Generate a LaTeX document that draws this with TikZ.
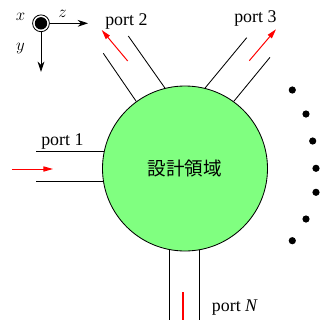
\documentclass[tikz,border=0pt]{standalone}
\usepackage{fontspec}
\setmainfont{Liberation Serif}
\newfontfamily\cjkfont{Noto Sans CJK JP}
\usetikzlibrary{arrows.meta}
\definecolor{domgreen}{HTML}{80FF80}
\begin{document}
\begin{tikzpicture}[x=0.25mm,y=-0.25mm,
  wall/.style={draw=black,line width=0.6pt},
  flow/.style={draw=red,line width=0.7pt,-{Triangle[length=2.4mm,width=1.3mm]}},
  flowline/.style={draw=red,line width=0.9pt},
  lbl/.style={inner sep=0pt,anchor=base west,font=\fontsize{12.7}{15}\selectfont},
  axlbl/.style={inner sep=0pt,font=\fontsize{12.7}{15}\selectfont},
  dotn/.style={circle,fill=black,inner sep=0pt,minimum size=1.8mm},
  axarrow/.style={draw=black,line width=0.6pt,-{Stealth[length=2.6mm,width=1.7mm]}}]
\useasboundingbox (0,0) rectangle (320,320);
% design domain
\node (dom) [circle, draw, line width=0.6pt, fill=domgreen, minimum size=41.25mm, inner sep=0pt] at (185,168.5) {\cjkfont\fontsize{13.2}{15}\selectfont 設計領域};
% port 1
\coordinate (p1end) at (36,0);
\draw[wall] (dom.168.5) -- (dom.168.5 -| p1end);
\draw[wall] (dom.189.6) -- (dom.189.6 -| p1end);
\coordinate (a1s) at (12,169);
\coordinate (a1e) at (53,169);
\draw[flow] (a1s) -- (a1e);
\node[lbl] (l1) at (41,145) {port 1};
% port 2
\coordinate (p2a) at (103.3,53.3);
\coordinate (p2b) at (128.3,36);
\draw[wall] (dom.126) -- (p2a);
\draw[wall] (dom.104) -- (p2b);
\coordinate (a2s) at (127.7,61);
\coordinate (a2e) at (101.7,30);
\draw[flow] (a2s) -- (a2e);
\node[lbl] (l2) at (105,25) {port 2};
% port 3
\coordinate (p3a) at (246.7,37.7);
\coordinate (p3b) at (270,57.3);
\draw[wall] (dom.76.5) -- (p3a);
\draw[wall] (dom.54) -- (p3b);
\coordinate (a3s) at (249.3,60.7);
\coordinate (a3e) at (276,29.3);
\draw[flow] (a3s) -- (a3e);
\node[lbl] (l3) at (234,22) {port 3};
% port N
\coordinate (bot) at (0,320);
\draw[wall] (dom.259) -- (dom.259 |- bot);
\draw[wall] (dom.280.5) -- (dom.280.5 |- bot);
\coordinate (aNs) at (183,292);
\coordinate (aNe) at (183,320);
\draw[flowline] (aNs) -- (aNe);
\node[lbl] (lN) at (211.7,311.7) {port \textit{N}};
% dots
\node[dotn] (d1) at (292.3,90) {};
\node[dotn] (d2) at (306,114) {};
\node[dotn] (d3) at (312.7,141) {};
\node[dotn] (d4) at (316,168.3) {};
\node[dotn] (d5) at (316,192.3) {};
\node[dotn] (d6) at (306,219) {};
\node[dotn] (d7) at (292.3,240.7) {};
% axes
\node (ax) [circle, draw, line width=0.6pt, minimum size=4.2mm, inner sep=0pt] at (41,23.3) {};
\node (axin) [circle, fill=black, minimum size=3.1mm, inner sep=0pt] at (41,23.3) {};
\coordinate (zend) at (88,23.3);
\coordinate (yend) at (41,72);
\draw[axarrow] (ax) -- (zend);
\draw[axarrow] (ax) -- (yend);
\node[axlbl] (lx) at (20.5,17) {$x$};
\node[axlbl] (lz) at (62.5,13.5) {$z$};
\node[axlbl] (ly) at (20.5,49) {$y$};
\end{tikzpicture}
\end{document}
